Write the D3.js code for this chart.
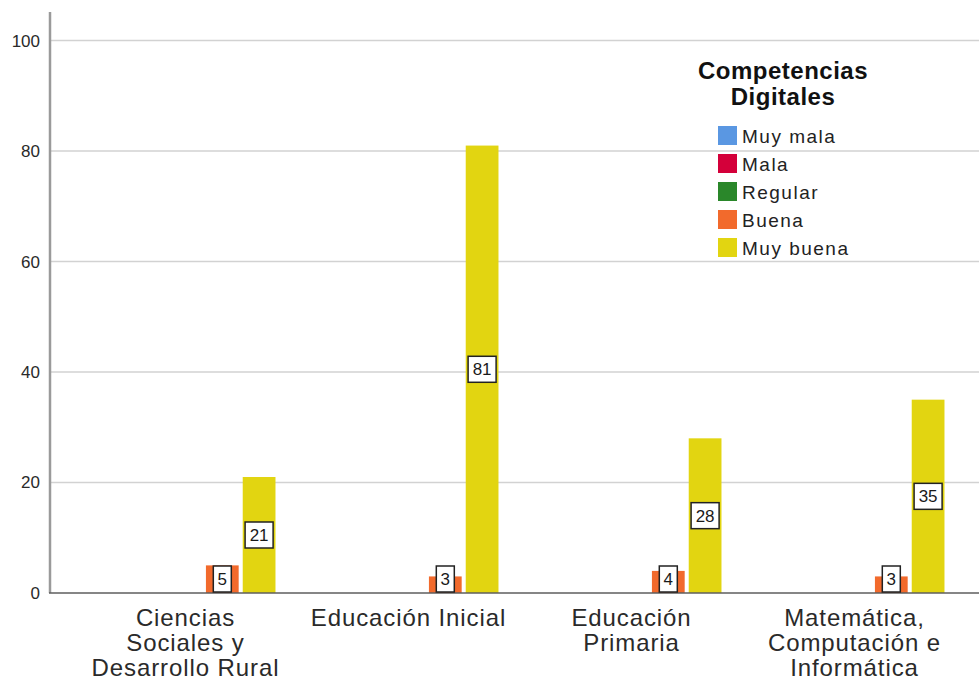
<!DOCTYPE html>
<html>
<head>
<meta charset="utf-8">
<script src="https://cdn.jsdelivr.net/npm/d3@7"></script>
<style>
  html, body { margin: 0; padding: 0; background: #fff; }
  svg { display: block; font-family: "Liberation Sans", Arial, sans-serif; }
</style>
</head>
<body>
<svg id="chart" width="979" height="682"></svg>
<script>
// Faculties on the x axis (label split into lines as drawn)
const categories = [
  "Ciencias Sociales y Desarrollo Rural",
  "Educación Inicial",
  "Educación Primaria",
  "Matemática, Computación e Informática"
];
const categoryLines = [
  ["Ciencias", "Sociales y", "Desarrollo Rural"],
  ["Educación Inicial"],
  ["Educación", "Primaria"],
  ["Matemática,", "Computación e", "Informática"]
];

// Levels of digital competence
const seriesNames = ["Muy mala", "Mala", "Regular", "Buena", "Muy buena"];
const seriesColors = ["#5a97e2", "#d4003a", "#2a872a", "#f26a2c", "#e2d511"];

// Counts per faculty for each level
const muyMala  = [0, 0, 0, 0];
const mala     = [0, 0, 0, 0];
const regular  = [0, 0, 0, 0];
const buena    = [5, 3, 4, 3];
const muyBuena = [21, 81, 28, 35];
const seriesValues = [muyMala, mala, regular, buena, muyBuena];

const yTicks = [0, 20, 40, 60, 80, 100];
const legendTitle = ["Competencias", "Digitales"];

const svg = d3.select("#chart");
const W = 979;
const axisX = 50, baseY = 593;

const y = d3.scaleLinear().domain([0, 105]).range([baseY, 13]);

const x = d3.scaleBand()
  .domain(categories)
  .range([74, 966])
  .paddingInner(0.193)
  .paddingOuter(0.0965);

const xs = d3.scaleBand()
  .domain(seriesNames)
  .range([0, x.bandwidth()])
  .paddingInner(0.11);

// Gridlines
svg.append("g")
  .selectAll("line")
  .data(yTicks.filter(d => d > 0))
  .join("line")
  .attr("x1", axisX).attr("x2", W)
  .attr("y1", d => y(d)).attr("y2", d => y(d))
  .attr("stroke", "#d2d2d2")
  .attr("stroke-width", 1.5);

// Y axis
const yAxis = d3.axisLeft(y).tickValues(yTicks).tickSize(0).tickPadding(10);
const gy = svg.append("g").attr("transform", `translate(${axisX},0)`).call(yAxis);
gy.select(".domain").remove();
gy.selectAll("text")
  .attr("font-size", 17)
  .attr("fill", "#2a2a2a")
  .attr("font-family", "'Liberation Sans', Arial, sans-serif");

svg.append("line")
  .attr("x1", axisX).attr("x2", axisX)
  .attr("y1", 12).attr("y2", baseY)
  .attr("stroke", "#9a9a9a").attr("stroke-width", 2.5);

// Bars
const barData = [];
seriesNames.forEach((s, si) => {
  categories.forEach((c, ci) => {
    barData.push({ series: s, si, cat: c, ci, value: seriesValues[si][ci] });
  });
});

svg.append("g")
  .selectAll("rect")
  .data(barData.filter(d => d.value > 0))
  .join("rect")
  .attr("x", d => x(d.cat) + xs(d.series))
  .attr("width", xs.bandwidth())
  .attr("y", d => y(d.value))
  .attr("height", d => baseY - y(d.value))
  .attr("fill", d => seriesColors[d.si]);

// X axis line
svg.append("line")
  .attr("x1", axisX - 1).attr("x2", W)
  .attr("y1", baseY).attr("y2", baseY)
  .attr("stroke", "#5e5e5e").attr("stroke-width", 1.5);

// Value labels in boxes
const boxH = 26;
const labels = svg.append("g")
  .selectAll("g")
  .data(barData.filter(d => d.value > 0))
  .join("g")
  .attr("transform", d => {
    const cx = x(d.cat) + xs(d.series) + xs.bandwidth() / 2;
    const cy = Math.min(y(d.value / 2), baseY - 1 - boxH / 2);
    return `translate(${cx},${cy})`;
  });
labels.append("rect")
  .attr("x", d => -(String(d.value).length === 1 ? 18 : 28) / 2)
  .attr("width", d => String(d.value).length === 1 ? 18 : 28)
  .attr("y", -boxH / 2)
  .attr("height", boxH)
  .attr("fill", "#fff")
  .attr("stroke", "#222")
  .attr("stroke-width", 1.5);
labels.append("text")
  .attr("text-anchor", "middle")
  .attr("dy", "0.36em")
  .attr("font-size", 17)
  .attr("fill", "#1a1a1a")
  .text(d => d.value);

// Category labels
const catG = svg.append("g")
  .selectAll("text")
  .data(categories)
  .join("text")
  .attr("x", d => x(d) + x.bandwidth() / 2)
  .attr("y", 626)
  .attr("text-anchor", "middle")
  .attr("font-size", 24)
  .attr("letter-spacing", 0.9)
  .attr("fill", "#2a2a2a");
catG.selectAll("tspan")
  .data((d, i) => categoryLines[i])
  .join("tspan")
  .attr("x", function () { return d3.select(this.parentNode).attr("x"); })
  .attr("dy", (d, i) => i === 0 ? 0 : 25)
  .text(d => d);

// Legend
const legend = svg.append("g");
legend.selectAll("text.title")
  .data(legendTitle)
  .join("text")
  .attr("class", "title")
  .attr("x", 783)
  .attr("y", (d, i) => 79 + i * 26)
  .attr("text-anchor", "middle")
  .attr("font-size", 24)
  .attr("font-weight", "bold")
  .attr("letter-spacing", 0.5)
  .attr("fill", "#111")
  .text(d => d);

const items = legend.selectAll("g.item")
  .data(seriesNames)
  .join("g")
  .attr("class", "item")
  .attr("transform", (d, i) => `translate(718,${126 + i * 28})`);
items.append("rect")
  .attr("width", 19).attr("height", 19)
  .attr("fill", (d, i) => seriesColors[i]);
items.append("text")
  .attr("x", 24)
  .attr("y", 17)
  .attr("font-size", 19)
  .attr("letter-spacing", 1.5)
  .attr("fill", "#222")
  .text(d => d);
</script>
</body>
</html>
